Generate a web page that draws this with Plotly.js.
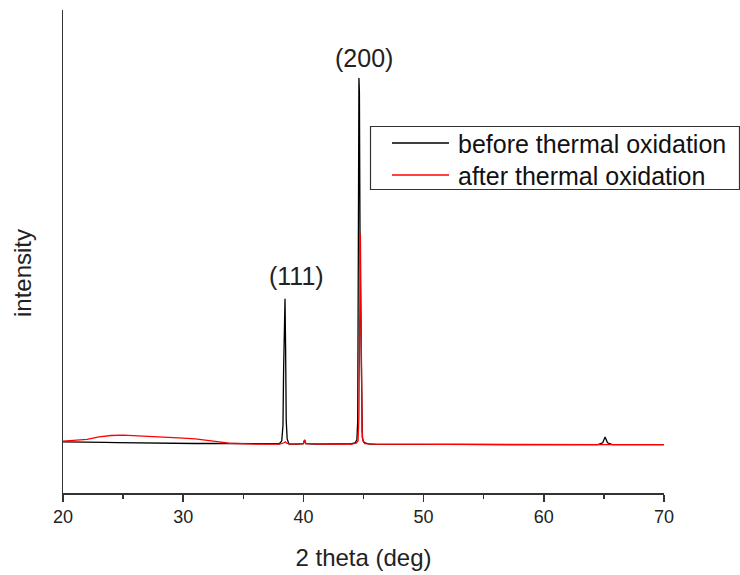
<!DOCTYPE html>
<html>
<head>
<meta charset="utf-8">
<script src="https://cdn.plot.ly/plotly-3.0.1.min.js"></script>
<style>html,body{margin:0;padding:0;background:#fff;}#chart{width:740px;height:575px;}</style>
</head>
<body>
<div id="chart"></div>
<script>
// 2-theta positions (deg) and intensities (arbitrary units)
const beforeX = [20, 21, 22, 22.8, 23.5, 24.5, 25.5, 26.5, 27.2, 28, 29, 30, 31, 32, 33, 34, 35, 36, 37, 38, 38.2, 38.3, 38.35, 38.42, 38.47, 38.52, 38.57, 38.65, 38.8, 39.5, 40.0, 40.1, 40.2, 41, 42, 43, 44.0, 44.3, 44.45, 44.52, 44.56, 44.62, 44.66, 44.72, 44.78, 44.84, 44.9, 45.0, 45.2, 45.5, 47, 50, 53, 56, 59, 62, 64.5, 64.9, 65.1, 65.3, 65.7, 67, 70];
const beforeY = [106, 106, 106.5, 106, 105, 104.5, 104, 104, 103, 103.5, 103, 103, 102.5, 102.5, 102.5, 102, 102, 101.5, 101.5, 102, 108, 140, 250, 350, 402, 300, 150, 112, 101, 101, 102, 110, 102, 101, 101, 101, 102, 104, 110, 150, 370, 859, 830, 478, 300, 150, 115, 106, 103, 101, 100.5, 100.5, 100.5, 100, 100, 100, 100, 104, 116, 104, 100, 100, 100];

const afterX = [20, 21, 22, 23, 24, 25, 26, 27, 28, 29, 30, 31, 32, 33, 33.8, 34.5, 35, 36, 37, 38, 38.4, 38.5, 38.6, 39, 40.0, 40.1, 40.2, 41, 42, 43, 44.0, 44.4, 44.55, 44.62, 44.68, 44.74, 44.78, 44.82, 44.88, 44.95, 45.1, 46, 50, 55, 60, 65, 70];
const afterY = [107.5, 108.5, 111, 116, 119, 120, 119, 117.5, 116, 115, 113.5, 112, 109.5, 106, 103, 102, 101.5, 101, 101, 101, 104, 106, 103, 101, 102, 110, 102, 101, 101, 101, 101, 103, 108, 160, 420, 538, 420, 260, 130, 108, 102, 101, 100.5, 100, 100, 100, 100];

const seriesNames = ['before thermal oxidation', 'after thermal oxidation'];
const seriesColors = ['#000000', '#ff0000'];

const peakLabels = ["(111)", "(200)"];
const peakLabelX = [39.45, 45.0];
const peakLabelY = [449, 900];

// plot area in pixels
const L = 63, R = 664, T = 10, B = 493;
const px = v => (v - L) / (R - L);
const py = v => (B - v) / (B - T);

const traces = [
  {x: beforeX, y: beforeY, type: 'scatter', mode: 'lines', name: seriesNames[0],
   line: {color: seriesColors[0], width: 1.3}},
  {x: afterX, y: afterY, type: 'scatter', mode: 'lines', name: seriesNames[1],
   line: {color: seriesColors[1], width: 1.3}}
];

const font = 'Liberation Sans, Arial, sans-serif';

const annotations = peakLabels.map((t, i) => ({
  x: peakLabelX[i], y: peakLabelY[i], xref: 'x', yref: 'y', text: t, showarrow: false,
  font: {family: font, size: 25, color: '#222'}
}));

// y-axis title placed where the reference has it (below the plot centre)
annotations.push({xref: 'paper', yref: 'paper', x: px(22), y: py(273), xanchor: 'center', yanchor: 'middle',
  text: 'intensity', textangle: -90, showarrow: false, font: {family: font, size: 24, color: '#222'}});

// hand-drawn legend box (matching the reference's long line samples)
const legRowsY = [143, 175];
const shapes = [
  {type: 'rect', xref: 'paper', yref: 'paper', x0: px(370.5), x1: px(739.5), y0: py(126.5), y1: py(189.5),
   line: {color: '#333', width: 1.2}, fillcolor: '#fff', layer: 'above'}
];
seriesNames.forEach((n, i) => {
  shapes.push({type: 'line', xref: 'paper', yref: 'paper', x0: px(392), x1: px(449), y0: py(legRowsY[i]), y1: py(legRowsY[i]),
    line: {color: seriesColors[i], width: 1.3}, layer: 'above'});
  annotations.push({xref: 'paper', yref: 'paper', x: px(456), y: py(legRowsY[i] + 1), xanchor: 'left', yanchor: 'middle',
    text: n, showarrow: false, font: {family: font, size: 25, color: '#111'}});
});

const layout = {
  width: 740, height: 575,
  margin: {l: L, r: 740 - R, t: T, b: 575 - B},
  paper_bgcolor: '#fff', plot_bgcolor: '#fff',
  showlegend: false,
  xaxis: {range: [20, 70], showline: true, linecolor: '#333', linewidth: 1.5, mirror: false,
    showgrid: false, zeroline: false, ticks: 'outside', ticklen: 7, tickwidth: 1.5, tickcolor: '#333',
    dtick: 10, tick0: 20,
    minor: {ticks: 'outside', ticklen: 4, tickwidth: 1.5, tickcolor: '#333', dtick: 5, showgrid: false},
    tickfont: {family: font, size: 18, color: '#222'},
    title: {text: '2 theta (deg)', font: {family: font, size: 24, color: '#222'}, standoff: 23}},
  yaxis: {range: [0, 1000], showline: true, linecolor: '#333', linewidth: 1.5,
    showgrid: false, zeroline: false, showticklabels: false, ticks: ''},
  shapes: shapes,
  annotations: annotations
};

Plotly.newPlot('chart', traces, layout, {displayModeBar: false, staticPlot: true});
</script>
</body>
</html>
